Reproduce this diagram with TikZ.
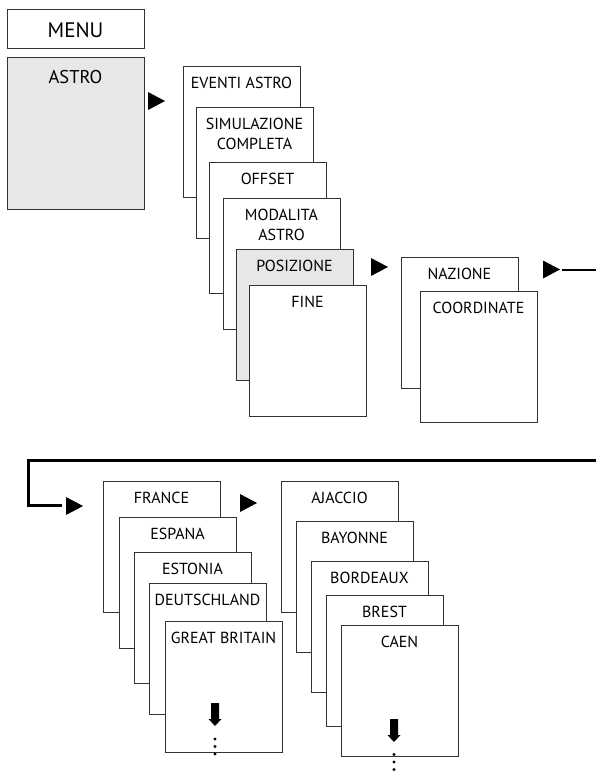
\documentclass[tikz,border=0pt]{standalone}
\usepackage{fontspec}
\setmainfont{PT Sans}
\definecolor{grayfill}{HTML}{E6E7E8}
\tikzset{
  card/.style={draw=black!80, line width=0.9pt, fill=white, anchor=north west,
    minimum width=117pt, minimum height=131pt, inner sep=0pt, outer sep=0pt},
  lbl/.style={anchor=base, inner sep=0pt, font=\fontsize{16}{20}\selectfont, text=black},
  conn/.style={line width=2.3pt, line join=miter},
}
\newcommand\card[5][]{%
  \node[card,#1] (#2) at (#3,#4) {};
  \node[lbl] (#2-t) at ([yshift=-22pt]#2.north) {#5};}
\newcommand\tri[2]{\fill (#1,#2-9) -- (#1+17,#2) -- (#1,#2+9) -- cycle;}
\newcommand\darrow[2]{\fill (#1-4,#2) -- (#1+4,#2) -- (#1+4,#2+16) -- (#1+6.5,#2+16)
  -- (#1,#2+23) -- (#1-6.5,#2+16) -- (#1-4,#2+16) -- cycle;}
\begin{document}
\begin{tikzpicture}[x=1pt,y=-1pt]
\useasboundingbox (0,0) rectangle (596,771);
% menu
\node[card, minimum width=137pt, minimum height=39pt] (menu) at (7,9) {};
\node[anchor=base, inner sep=0pt, font=\fontsize{21}{24}\selectfont] (menu-t) at ([yshift=-28pt]menu.north) {MENU};
\node[card, fill=grayfill, minimum width=137pt, minimum height=152pt] (astro) at (7,57) {};
\node[anchor=base, inner sep=0pt, font=\fontsize{18.5}{22}\selectfont] (astro-t) at ([yshift=-26pt]astro.north) {ASTRO};
\tri{148}{101}
% first stack
\card{evt}{183}{66}{EVENTI ASTRO}
\card{sim}{196}{107}{SIMULAZIONE}
\node[lbl] (sim-t2) at ([yshift=-42.5pt]sim.north) {COMPLETA};
\card{off}{209}{162}{OFFSET}
\card{mod}{223}{198}{MODALITA}
\node[lbl] (mod-t2) at ([yshift=-42.5pt]mod.north) {ASTRO};
\card[fill=grayfill]{pos}{236}{249}{POSIZIONE}
\card{fin}{249}{285}{FINE}
\tri{371}{267}
% second stack
\card{naz}{401}{257}{NAZIONE}
\card{coo}{420}{291}{COORDINATE}
\tri{543}{269.5}
% connector
\coordinate (c1) at (562,270);
\coordinate (c2) at (62,505.5);
\draw[conn] (c1) -- (606,270) |- (28.5,460.5) |- (c2);
\tri{66}{506}
% countries
\card{fra}{103}{481}{FRANCE}
\card{esp}{119}{517}{ESPANA}
\card{est}{134}{552}{ESTONIA}
\card{deu}{149}{583}{DEUTSCHLAND}
\card{gb}{165}{621}{GREAT BRITAIN}
\darrow{215}{703}
\fill (215,739) circle (1.6pt) (215,746.5) circle (1.6pt) (215,754) circle (1.6pt);
\tri{240}{503}
% cities
\card{aja}{281}{481}{AJACCIO}
\card{bay}{296}{521}{BAYONNE}
\card{bor}{311}{561}{BORDEAUX}
\card{bre}{326}{595}{BREST}
\card{cae}{341}{625}{CAEN}
\darrow{394}{719}
\fill (394,754.5) circle (1.6pt) (394,762) circle (1.6pt) (394,769.5) circle (1.6pt);
\end{tikzpicture}
\end{document}
